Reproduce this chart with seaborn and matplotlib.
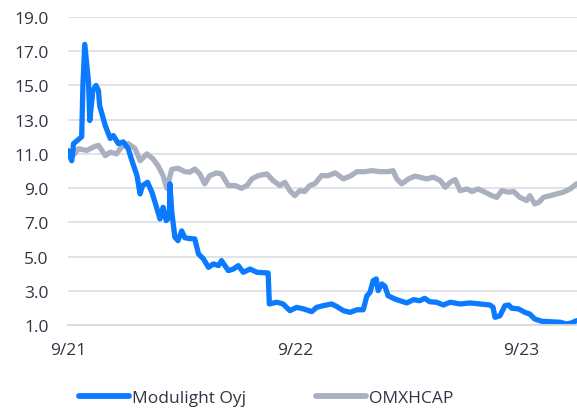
import numpy as np
import pandas as pd
import matplotlib
matplotlib.use("Agg")
import matplotlib.pyplot as plt
from matplotlib.lines import Line2D
import seaborn as sns

# data: days since 2021-09-01 and closing values
start = "2021-09-01"

mod_days = [0, 6, 9, 22, 24, 27, 33, 35, 40, 45, 49, 51, 60, 62, 68, 73, 81, 89, 97,
            102, 111, 116, 120, 128, 135, 140, 148, 153, 158, 163, 164, 167, 172, 177,
            183, 188, 196, 204, 210, 218, 226, 234, 242, 247, 258, 266, 274, 282, 293,
            304, 322, 324, 336, 346, 357, 368, 379, 392, 400, 411, 424, 432, 443, 454,
            465, 475, 481, 486, 491, 496, 499, 505, 510, 515, 526, 534, 545, 556, 566,
            574, 582, 593, 604, 615, 631, 647, 663, 679, 684, 687, 695, 703, 709, 714,
            725, 735, 743, 751, 762, 776, 792, 802, 810, 818]
mod_vals = [11.2, 10.6, 11.6, 12.0, 15.0, 17.4, 15.2, 12.95, 14.7, 15.0, 14.7, 13.8, 12.65,
            12.46, 11.9, 12.07, 11.6, 11.7, 11.3, 10.7, 9.73, 8.66, 9.15, 9.34, 8.76, 8.18,
            7.2, 7.88, 7.1, 7.3, 9.25, 7.6, 6.13, 5.93, 6.5, 6.1, 6.05, 6.03, 5.15, 4.86,
            4.37, 4.57, 4.47, 4.76, 4.18, 4.27, 4.47, 4.08, 4.27, 4.08, 4.04, 2.23, 2.33,
            2.23, 1.84, 2.03, 1.94, 1.78, 2.03, 2.13, 2.23, 2.09, 1.84, 1.74, 1.89, 1.89,
            2.71, 2.91, 3.59, 3.69, 3.01, 3.40, 3.26, 2.71, 2.52, 2.42, 2.29, 2.48, 2.42,
            2.56, 2.36, 2.33, 2.17, 2.33, 2.23, 2.29, 2.23, 2.17, 2.03, 1.45, 1.54, 2.13,
            2.17, 1.98, 1.94, 1.74, 1.64, 1.35, 1.22, 1.19, 1.16, 1.06, 1.12, 1.25]

omx_days = [0, 6, 17, 30, 41, 49, 60, 68, 78, 86, 97, 108, 116, 127, 137, 145, 153, 159,
            167, 177, 188, 196, 204, 212, 220, 228, 239, 247, 258, 269, 279, 288, 296,
            306, 320, 330, 341, 349, 357, 365, 373, 381, 389, 397, 408, 419, 430, 443,
            454, 465, 478, 489, 502, 515, 523, 529, 537, 548, 558, 566, 577, 588, 599,
            607, 615, 623, 631, 642, 650, 660, 671, 682, 690, 698, 709, 717, 727, 738,
            743, 751, 758, 765, 776, 786, 797, 808, 818]
omx_vals = [11.0, 10.8, 11.3, 11.2, 11.4, 11.5, 10.9, 11.1, 11.0, 11.4, 11.6, 11.3, 10.6,
            11.0, 10.7, 10.3, 9.73, 8.99, 10.1, 10.16, 9.96, 9.93, 10.12, 9.83, 9.25, 9.73,
            9.89, 9.83, 9.15, 9.15, 8.99, 9.15, 9.54, 9.73, 9.83, 9.44, 9.15, 9.34, 8.85,
            8.56, 8.85, 8.8, 9.15, 9.25, 9.73, 9.73, 9.89, 9.54, 9.70, 9.96, 9.96, 10.02,
            9.96, 9.96, 10.02, 9.54, 9.25, 9.54, 9.70, 9.64, 9.54, 9.64, 9.44, 9.05, 9.34,
            9.50, 8.85, 8.95, 8.80, 8.95, 8.76, 8.56, 8.46, 8.85, 8.76, 8.80, 8.46, 8.27,
            8.56, 8.08, 8.18, 8.46, 8.56, 8.66, 8.76, 8.95, 9.25]

series_names = ["Modulight Oyj", "OMXHCAP"]
tick_dates = ["2021-09-01", "2022-09-01", "2023-09-01"]
tick_labels = ["9/21", "9/22", "9/23"]
y_ticks = [1, 3, 5, 7, 9, 11, 13, 15, 17, 19]

colors = {"Modulight Oyj": "#0a7bff", "OMXHCAP": "#abb0c0"}

t0 = pd.Timestamp(start)
df = pd.concat([
    pd.DataFrame({"date": t0 + pd.to_timedelta(mod_days, unit="D"),
                  "value": mod_vals, "series": series_names[0]}),
    pd.DataFrame({"date": t0 + pd.to_timedelta(omx_days, unit="D"),
                  "value": omx_vals, "series": series_names[1]}),
])

sns.set_style("white")
plt.rcParams["font.family"] = ["Open Sans", "DejaVu Sans"]

fig = plt.figure(figsize=(5.77, 4.10), dpi=100)
ax = fig.add_axes([68 / 577, 84 / 410, 1 - 68 / 577, 308 / 410])

# gray first so blue sits on top
for name in series_names[::-1]:
    sns.lineplot(
        data=df[df.series == name], x="date", y="value",
        color=colors[name], linewidth=3.8, ax=ax, legend=False,
        solid_joinstyle="round", solid_capstyle="round",
    )

ax.set_ylim(1, 19)
ax.set_yticks(y_ticks)
ax.set_yticklabels([f"{v:.1f}" for v in y_ticks])
ax.set_xlim(t0, t0 + pd.Timedelta(days=819))
ax.set_xticks(pd.to_datetime(tick_dates))
ax.set_xticklabels(tick_labels)
ax.set(xlabel="", ylabel="")

ax.grid(axis="y", color="#dfe1e8", linewidth=1.3)
ax.set_axisbelow(True)
for side in ["left", "right", "top"]:
    ax.spines[side].set_visible(False)
ax.spines["bottom"].set_color("#d5d8e0")
ax.spines["bottom"].set_linewidth(1.3)

ax.tick_params(axis="y", length=0, pad=14, labelsize=12.5, labelcolor="#2f3542")
ax.tick_params(axis="x", length=5, width=1.2, color="#d5d8e0", pad=7,
               labelsize=12.5, labelcolor="#2f3542")

handles = [Line2D([0], [0], color=colors[n], linewidth=4.2, solid_capstyle="round")
           for n in series_names]
fig.legend(handles, series_names, loc="center", bbox_to_anchor=(0.461, 0.027),
           ncol=2, frameon=False, handlelength=2.9, handletextpad=0.17,
           columnspacing=4.0, fontsize=12.5, labelcolor="#2f3542")

fig.savefig("out.png", dpi=100)
